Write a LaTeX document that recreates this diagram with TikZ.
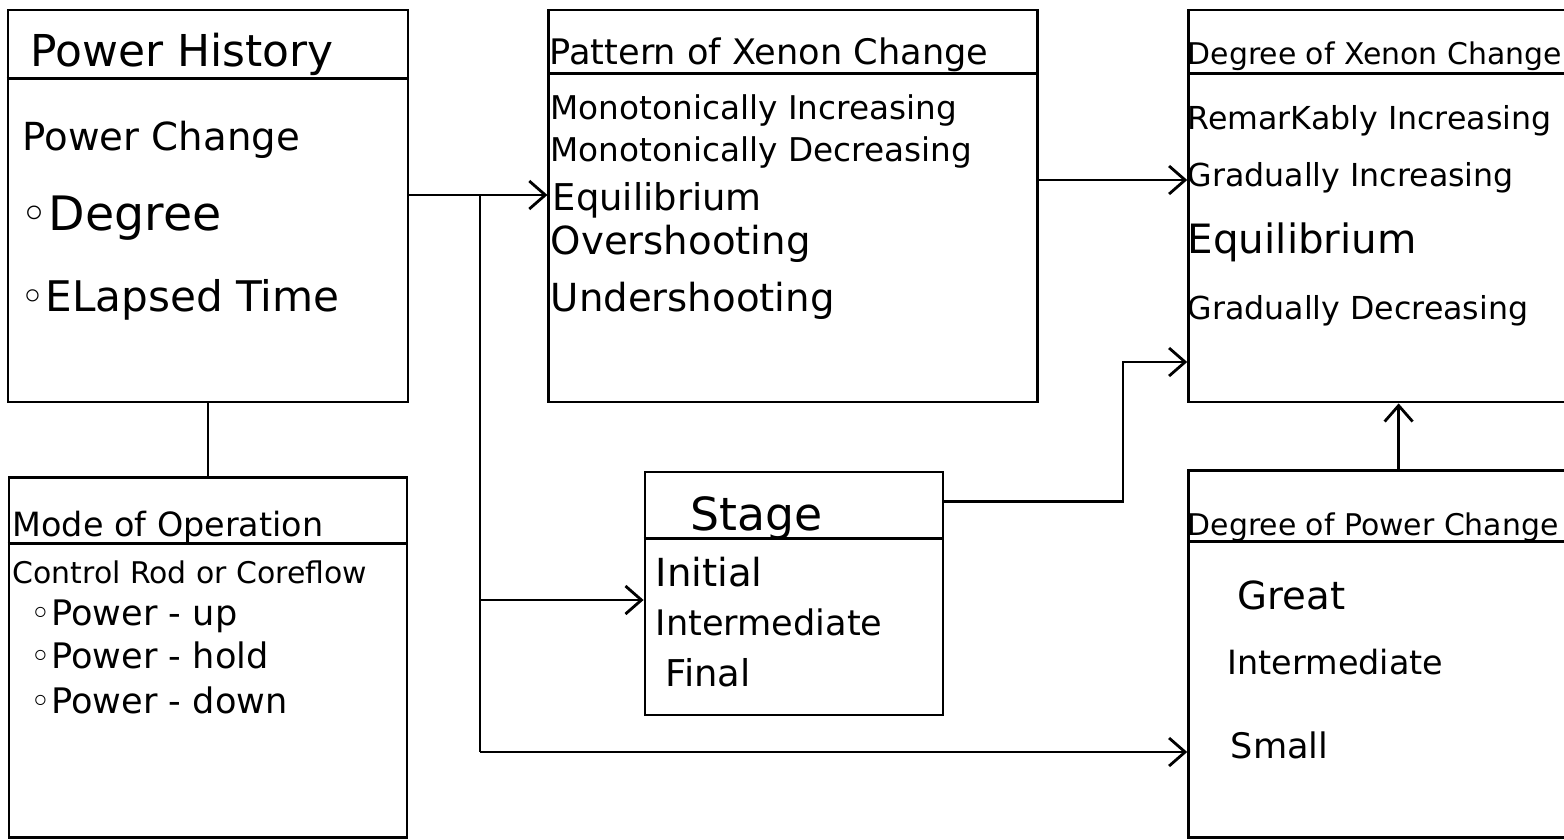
\documentclass[tikz,border=0pt]{standalone}
\usepackage{fontspec}
\setmainfont{DejaVu Sans}
\usetikzlibrary{arrows.meta,positioning}

\newcommand{\fs}[1]{\fontsize{#1}{#1}\selectfont}

\begin{document}
\begin{tikzpicture}[
    box/.style={rectangle, draw, line width=0.8pt, inner sep=0pt},
    txt/.style={anchor=base west, inner sep=0pt},
    arrow/.style={-{Straight Barb[length=1.6mm,width=2.8mm]}, line width=0.8pt}
]
    \useasboundingbox (0,0) rectangle (15.64,-8.39);

    % Boxes
    \node[box, minimum width=4.00cm, minimum height=3.92cm] (ph) at (2.08,-2.06) {};
    \node[box, right=1.38cm of ph, minimum width=4.89cm, minimum height=3.92cm] (pxc) {};
    \node[box, right=1.48cm of pxc, minimum width=3.79cm, minimum height=3.92cm] (dxc) {};
    \node[box, below=0.73cm of ph, minimum width=3.98cm, minimum height=3.60cm] (moo) {};
    \node[box, minimum width=2.98cm, minimum height=2.43cm] (stg) at (7.94,-5.935) {};
    \node[box, below=0.66cm of dxc, minimum width=3.79cm, minimum height=3.67cm] (dpc) {};

    % Title lines
    \foreach \b/\d in {ph/0.70, pxc/0.65, dxc/0.65, moo/0.67, stg/0.68, dpc/0.72}
        \draw[line width=0.8pt] ([yshift=-\d cm]\b.north west) -- ([yshift=-\d cm]\b.north east);

    % Power History
    \node[txt, font=\fs{12.5}] (phT) at (0.30,-0.66) {Power History};
    \node[txt, font=\fs{11}] (ph1) at (0.22,-1.50) {Power Change};
    \node[txt, font=\fs{13.5}] (ph2) at (0.20,-2.30) {◦Degree};
    \node[txt, font=\fs{12}] (ph3) at (0.20,-3.11) {◦ELapsed Time};

    % Pattern of Xenon Change
    \node[txt, font=\fs{10}] (pxcT) at (5.49,-0.64) {Pattern of Xenon Change};
    \node[txt, font=\fs{9.3}] (pxc1) at (5.50,-1.19) {Monotonically Increasing};
    \node[txt, font=\fs{9.3}] (pxc2) at (5.50,-1.61) {Monotonically Decreasing};
    \node[txt, font=\fs{10.5}] (pxc3) at (5.52,-2.10) {Equilibrium};
    \node[txt, font=\fs{11}] (pxc4) at (5.50,-2.54) {Overshooting};
    \node[txt, font=\fs{11}] (pxc5) at (5.50,-3.11) {Undershooting};

    % Degree of Xenon Change
    \node[txt, font=\fs{8.5}] (dxcT) at (11.87,-0.64) {Degree of Xenon Change};
    \node[txt, font=\fs{9}] (dxc1) at (11.87,-1.29) {RemarKably Increasing};
    \node[txt, font=\fs{9}] (dxc2) at (11.87,-1.86) {Gradually Increasing};
    \node[txt, font=\fs{11.5}] (dxc3) at (11.87,-2.53) {Equilibrium};
    \node[txt, font=\fs{9}] (dxc4) at (11.87,-3.19) {Gradually Decreasing};

    % Mode of Operation
    \node[txt, font=\fs{9.5}] (mooT) at (0.12,-5.36) {Mode of Operation};
    \node[txt, font=\fs{8.5}] (moo1) at (0.12,-5.83) {Control Rod or Coreflow};
    \node[txt, font=\fs{10}] (moo2) at (0.30,-6.25) {◦Power - up};
    \node[txt, font=\fs{10}] (moo3) at (0.30,-6.68) {◦Power - hold};
    \node[txt, font=\fs{10}] (moo4) at (0.30,-7.13) {◦Power - down};

    % Stage
    \node[txt, font=\fs{13}] (stgT) at (6.90,-5.30) {Stage};
    \node[txt, font=\fs{11}] (stg1) at (6.55,-5.86) {Initial};
    \node[txt, font=\fs{10}] (stg2) at (6.55,-6.35) {Intermediate};
    \node[txt, font=\fs{10.5}] (stg3) at (6.65,-6.86) {Final};

    % Degree of Power Change
    \node[txt, font=\fs{8.5}] (dpcT) at (11.87,-5.35) {Degree of Power Change};
    \node[txt, font=\fs{11}] (dpc1) at (12.37,-6.09) {Great};
    \node[txt, font=\fs{9.5}] (dpc2) at (12.27,-6.74) {Intermediate};
    \node[txt, font=\fs{10}] (dpc3) at (12.30,-7.58) {Small};

    % Connectors
    \coordinate (br) at (4.80,-1.95);
    \coordinate (sj) at (4.80,-6.00);
    \coordinate (bj) at (4.80,-7.52);
    \coordinate (kn) at (11.23,-3.62);
    \draw[arrow] (ph.east |- br) -- (pxc.west |- br);
    \draw[line width=0.8pt] (br) -- (bj);
    \draw[arrow] (sj) -- (stg.west |- sj);
    \draw[arrow] (bj) -- (dpc.west |- bj);
    \draw[arrow] (pxc.east |- 0,-1.80) -- (dxc.west |- 0,-1.80);
    \draw[arrow] ([yshift=-0.31cm]stg.north east) -| (kn) -- (dxc.west |- kn);
    \draw[arrow] ([xshift=0.205cm]dpc.north) -- ([xshift=0.205cm]dxc.south);
    \draw[line width=0.8pt] (ph.south) -- (ph.south |- moo.north);
\end{tikzpicture}
\end{document}
